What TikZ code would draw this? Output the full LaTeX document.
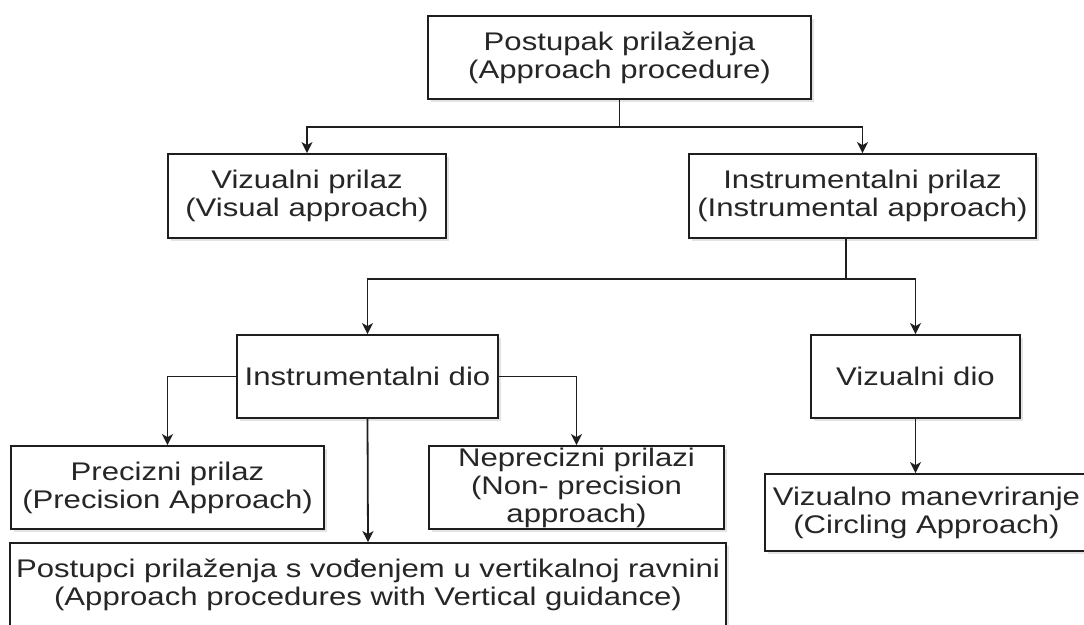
\documentclass[tikz,border=0pt]{standalone}
\usepackage{fontspec}
\setmainfont{Liberation Sans}[FakeStretch=1.22]
\usepackage{tikz}
\usetikzlibrary{arrows.meta,shadows}
\definecolor{boxline}{RGB}{30,30,30}

\begin{document}
\begin{tikzpicture}[x=1pt, y=-1pt,
    box/.style={draw=boxline, line width=1.8pt, fill=white, align=center, inner sep=0pt, text=black!85,
        font=\fontsize{25.5}{28}\selectfont,
        drop shadow={shadow xshift=2.5pt, shadow yshift=-2.5pt, opacity=.22}},
    arr/.style={-{Stealth[length=11pt, width=11pt, inset=3pt]}, line width=1.8pt, boxline}]
    \useasboundingbox (0,0) rectangle (1084,624);
    \clip (0,0) rectangle (1084,624);
    \fill[white] (0,0) rectangle (1084,624);

    \node[box, minimum width=383pt, minimum height=83pt]
        (top) at (619.5,57.5) {Postupak prilaženja \\ (Approach procedure)};

    \node[box, minimum width=278pt, minimum height=84pt]
        (vis) at (307,196) {Vizualni prilaz \\ (Visual approach)};
    \node[box, minimum width=347pt, minimum height=84pt]
        (instr) at (862.5,196) {Instrumentalni prilaz \\ (Instrumental approach)};

    \node[box, minimum width=261pt, minimum height=83pt]
        (idio) at (367.5,376.5) {Instrumentalni dio};
    \node[box, minimum width=209pt, minimum height=83pt]
        (vdio) at (915.5,376.5) {Vizualni dio};

    \node[box, minimum width=313pt, minimum height=83pt]
        (prec) at (167.5,487.5) {Precizni prilaz \\ (Precision Approach)};
    \node[box, minimum width=295pt, minimum height=83pt]
        (neprec) at (576.5,487.5) {Neprecizni prilazi \\ (Non- precision \\ approach)};
    \node[box, minimum width=716pt, minimum height=83pt]
        (vert) at (368,584.5) {Postupci prilaženja s vođenjem u vertikalnoj ravnini \\ (Approach procedures with Vertical guidance)};
    \node[box, minimum width=323pt, minimum height=77pt]
        (manev) at (926.5,512.5) {Vizualno manevriranje \\ (Circling Approach)};

    \coordinate (j1) at (619.5,127);
    \coordinate (j2) at (845.7,279);

    \draw[arr] (top.south) -- (j1) -| (vis.north);
    \draw[arr] (j1) -| (instr.north);
    \draw[line width=1.8pt, boxline] (instr.south -| j2) -- (j2);
    \draw[arr] (j2) -| (idio.north);
    \draw[arr] (j2) -| (vdio.north);
    \draw[arr] (idio.west) -| (prec.north);
    \draw[arr] (idio.east) -| (neprec.north);
    \draw[arr] (idio.south) -- (vert.north);
    \draw[arr] (vdio.south) -- (vdio.south |- manev.north);
\end{tikzpicture}
\end{document}
